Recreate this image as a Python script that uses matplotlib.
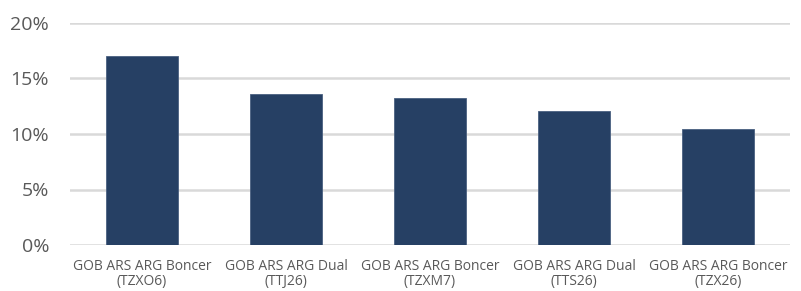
import matplotlib
matplotlib.use("Agg")
import matplotlib.pyplot as plt
from matplotlib.ticker import FuncFormatter

categories = ["GOB ARS ARG Boncer\n(TZXO6)", "GOB ARS ARG Dual\n(TTJ26)", "GOB ARS ARG Boncer\n(TZXM7)",
              "GOB ARS ARG Dual\n(TTS26)", "GOB ARS ARG Boncer\n(TZX26)"]
values = [17.0, 13.6, 13.2, 12.1, 10.45]
yticks = [0, 5, 10, 15, 20]

plt.rcParams['font.family'] = ['Open Sans', 'DejaVu Sans']
fig = plt.figure(figsize=(8.01, 2.91), dpi=100)
ax = fig.add_axes([70/801, 1-245/291, 720/801, (245-23)/291])
x = range(len(categories))
ax.bar(x, values, width=0.5, color="#264064", edgecolor="#4a6080", linewidth=0.6, zorder=3)
ax.set_xlim(-0.5, len(categories)-0.5)
ax.set_ylim(0, 20)
ax.set_yticks(yticks)
ax.yaxis.set_major_formatter(FuncFormatter(lambda v, p: f"{v:.0f}%"))
ax.grid(axis='y', color="#d9d9d9", linewidth=1.8, zorder=0)
for s in ax.spines.values():
    s.set_visible(False)
ax.tick_params(axis='both', length=0)
ax.tick_params(axis='y', labelsize=14, labelcolor="#595959", pad=15)
ax.set_xticks(list(x))
ax.set_xticklabels(categories, fontsize=10, color="#595959", linespacing=1.0)
ax.tick_params(axis='x', pad=10)
fig.savefig("out.png", dpi=100)
